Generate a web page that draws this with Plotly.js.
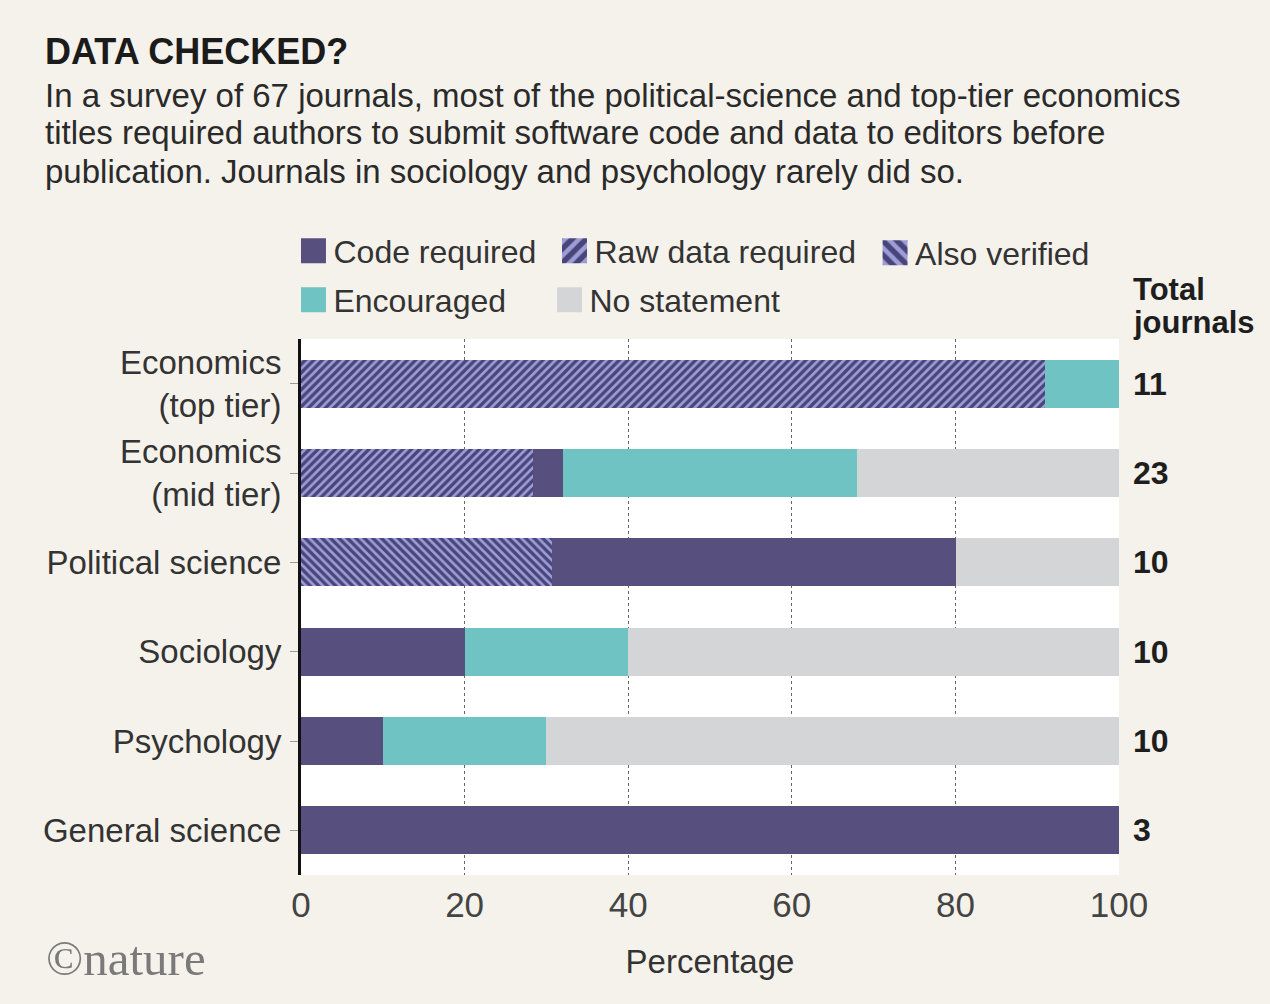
<!DOCTYPE html>
<html>
<head>
<meta charset="utf-8">
<script src="https://cdn.plot.ly/plotly-3.0.1.min.js"></script>
<style>
  html, body { margin: 0; padding: 0; background: #f5f2eb; }
  #chart { width: 1270px; height: 1004px; }
</style>
</head>
<body>
<div id="chart"></div>
<script>
// ---- Data ----
var categories = ['Economics<br>(top tier)', 'Economics<br>(mid tier)', 'Political science', 'Sociology', 'Psychology', 'General science'];
var totalJournals = [11, 23, 10, 10, 10, 3];
var alsoVerified = [0, 0, 30.7, 0, 0, 0];
var rawDataRequired = [90.9, 28.4, 0, 0, 0, 0];
var codeRequired = [0, 3.6, 49.4, 20, 10, 100];
var encouraged = [9.1, 36, 0, 20, 20, 0];
var noStatement = [0, 32, 19.9, 60, 70, 0];
var xTicks = [0, 20, 40, 60, 80, 100];

var titleText = 'DATA CHECKED?';
var subtitleLines = [
  'In a survey of 67 journals, most of the political-science and top-tier economics',
  'titles required authors to submit software code and data to editors before',
  'publication. Journals in sociology and psychology rarely did so.'
];

// ---- Styles ----
var PURPLE = '#574f7e';
var LAVENDER = '#9c9dd8';
var HATCH_FG = '#4a4579';
var TEAL = '#6fc3c2';
var GREY = '#d3d5d7';
var FONT = '"Liberation Sans", Arial, sans-serif';
var BAR_W = 0.54;

function barTrace(name, values, marker, legendId) {
  return {
    type: 'bar', orientation: 'h', name: name,
    y: categories, x: values, width: BAR_W,
    marker: marker, legend: legendId,
    hoverinfo: 'x+name'
  };
}

var traces = [
  barTrace('Also verified', alsoVerified,
    { color: LAVENDER, line: { width: 0 },
      pattern: { shape: '\\', bgcolor: LAVENDER, fgcolor: HATCH_FG, size: 6, solidity: 0.55 } }, 'legend3'),
  barTrace('Raw data required', rawDataRequired,
    { color: LAVENDER, line: { width: 0 },
      pattern: { shape: '/', bgcolor: LAVENDER, fgcolor: HATCH_FG, size: 6, solidity: 0.55 } }, 'legend2'),
  barTrace('Code required', codeRequired, { color: PURPLE, line: { width: 0 } }, 'legend'),
  barTrace('Encouraged', encouraged, { color: TEAL, line: { width: 0 } }, 'legend4'),
  barTrace('No statement', noStatement, { color: GREY, line: { width: 0 } }, 'legend5')
];

function legendAt(x, y) {
  return {
    x: x, xanchor: 'left', y: y, yanchor: 'top', orientation: 'h',
    bgcolor: 'rgba(0,0,0,0)', borderwidth: 0,
    font: { family: FONT, size: 32, color: '#333333' },
    itemclick: false, itemdoubleclick: false
  };
}

var subtitleY = [1.4548, 1.3857, 1.3128];
var annotations = [
  { xref: 'paper', yref: 'paper', x: -0.316, y: 1.537, xanchor: 'left', yanchor: 'middle',
    text: '<b>' + titleText + '</b>', showarrow: false,
    font: { family: '"Liberation Sans Narrow", "Liberation Sans", sans-serif', size: 36, color: '#1b1b1b' } },
  { xref: 'paper', yref: 'paper', x: 1, xshift: 12, y: 1.0923, xanchor: 'left', yanchor: 'middle', align: 'left',
    text: '<b>Total</b>', showarrow: false,
    font: { family: FONT, size: 31, color: '#1e1e1e' } },
  { xref: 'paper', yref: 'paper', x: 1, xshift: 12, y: 1.0307, xanchor: 'left', yanchor: 'middle', align: 'left',
    text: '<b>journals</b>', showarrow: false,
    font: { family: FONT, size: 31, color: '#1e1e1e' } },
  { xref: 'paper', yref: 'paper', x: -0.309, xshift: -4, y: -0.156, xanchor: 'left', yanchor: 'middle',
    text: '©nature', showarrow: false,
    font: { family: '"Liberation Serif", serif', size: 49, color: '#7a7a7a' } }
];
subtitleLines.forEach(function (line, k) {
  annotations.push({
    xref: 'paper', yref: 'paper', x: -0.316, y: subtitleY[k], xanchor: 'left', yanchor: 'middle', align: 'left',
    text: line, showarrow: false,
    font: { family: FONT, size: 33, color: '#2a2a2a' }
  });
});
for (var i = 0; i < categories.length; i++) {
  annotations.push({
    xref: 'paper', yref: 'y', x: 1, xshift: 12, y: categories[i], xanchor: 'left', yanchor: 'middle',
    text: '<b>' + totalJournals[i] + '</b>', showarrow: false,
    font: { family: FONT, size: 32, color: '#1e1e1e' }
  });
}

var layout = {
  width: 1270, height: 1004,
  paper_bgcolor: '#f5f2eb', plot_bgcolor: '#ffffff',
  margin: { l: 301, r: 151, t: 339, b: 129, autoexpand: false },
  barmode: 'stack', bargap: 0.46,
  font: { family: FONT, size: 32, color: '#333333' },
  showlegend: true,
  legend: legendAt(-0.0092, 1.2157),
  legend2: legendAt(0.3099, 1.2157),
  legend3: legendAt(0.7018, 1.2117),
  legend4: legendAt(-0.0092, 1.1240),
  legend5: legendAt(0.3038, 1.1240),
  xaxis: {
    range: [0, 100], tickvals: xTicks, ticktext: xTicks.map(String),
    showgrid: true, gridcolor: '#666666', griddash: 'dot', gridwidth: 1,
    zeroline: false, showline: false, ticks: '', ticklabelstandoff: 6,
    tickfont: { family: FONT, size: 35, color: '#444444' },
    title: { text: 'Percentage', font: { family: FONT, size: 33, color: '#333333' }, standoff: 26 },
    fixedrange: true
  },
  yaxis: {
    type: 'category', categoryorder: 'array', categoryarray: categories,
    autorange: 'reversed',
    showgrid: false, zeroline: false,
    showline: true, linecolor: '#111111', linewidth: 3,
    ticks: 'outside', ticklen: 8, tickcolor: '#999999', tickwidth: 1, ticklabelstandoff: 2,
    tickfont: { family: FONT, size: 33, color: '#333333' },
    fixedrange: true
  },
  annotations: annotations
};

Plotly.newPlot('chart', traces, layout, { displayModeBar: false }).then(function (gd) {
  // enlarge the legend swatches (keeping their centring) to match the reference's square keys
  var paths = gd.querySelectorAll('.infolayer .legendpoints path');
  paths.forEach(function (p) {
    var t = p.getAttribute('transform') || '';
    p.setAttribute('transform', t + ' scale(2.08)');
  });
});
</script>
</body>
</html>
